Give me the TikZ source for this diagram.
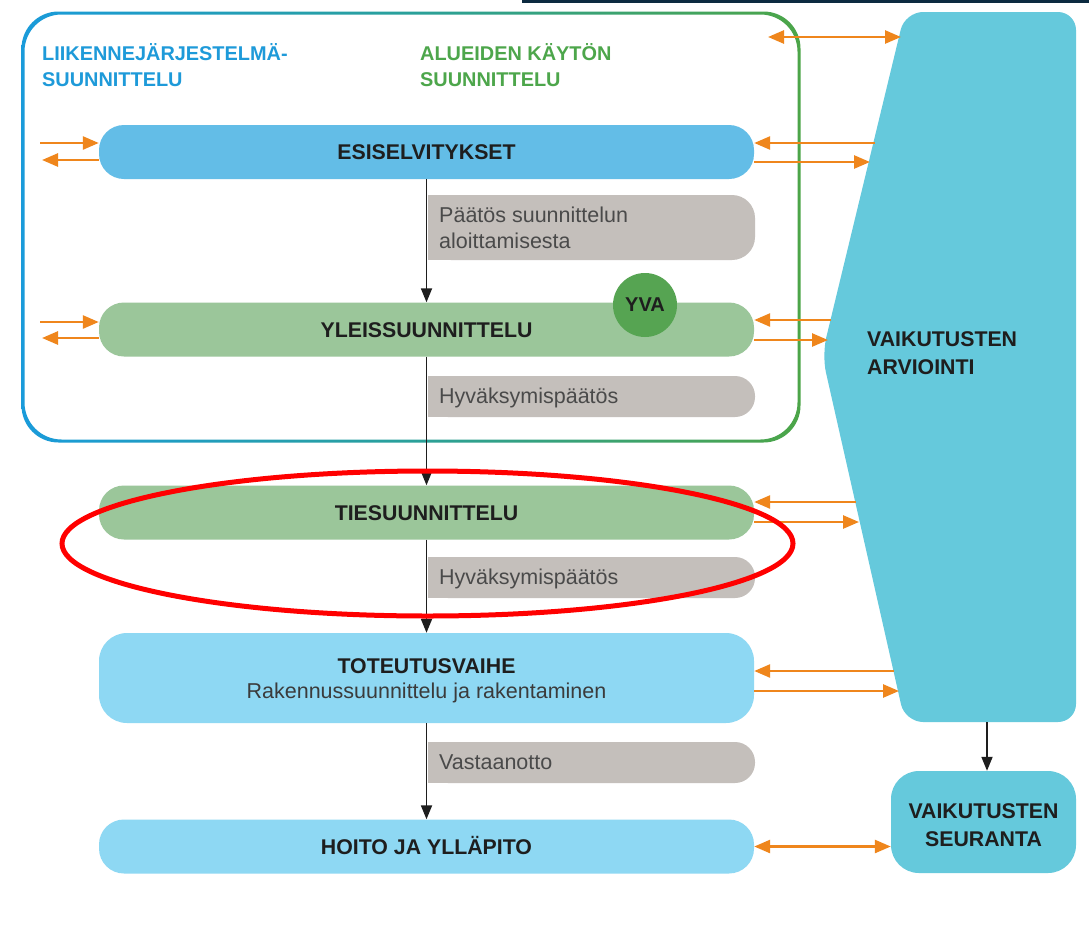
\documentclass[tikz,border=0pt]{standalone}
\usepackage{fontspec}
\setmainfont{Liberation Sans}
\usetikzlibrary{arrows.meta}
\definecolor{navyC}{HTML}{0C2A40}
\definecolor{bordBlue}{HTML}{1A9BDA}
\definecolor{bordTeal}{HTML}{2AA09A}
\definecolor{bordGreen}{HTML}{4CA548}
\definecolor{titleBlue}{HTML}{1E9AD9}
\definecolor{titleGreen}{HTML}{4DA64B}
\definecolor{barBlue}{HTML}{63BDE7}
\definecolor{barGreen}{HTML}{9BC69A}
\definecolor{barLight}{HTML}{8ED8F3}
\definecolor{grayC}{HTML}{C4BFBB}
\definecolor{tealC}{HTML}{65C9DC}
\definecolor{yvaC}{HTML}{56A452}
\definecolor{orangeC}{HTML}{EF861C}
\definecolor{txtGray}{HTML}{4A4A4A}
\definecolor{txtDark}{HTML}{1E1E1E}
\begin{document}
\begin{tikzpicture}[x=1pt,y=-1pt,
  bar/.style={rounded corners=25pt, minimum width=655pt, minimum height=54pt, inner sep=0pt, text height=15.4pt, text depth=0pt, font=\bfseries\fontsize{21.3}{26}\selectfont, text=txtDark},
  gtext/.style={anchor=base west, inner sep=0pt, font=\fontsize{21.5}{26}\selectfont, text=txtGray},
  btext/.style={anchor=base west, inner sep=0pt, font=\bfseries\fontsize{21.3}{26}\selectfont, text=txtDark},
  ctext/.style={anchor=base, inner sep=0pt, font=\bfseries\fontsize{21.3}{26}\selectfont, text=txtDark},
  ttext/.style={anchor=base west, inner sep=0pt, font=\bfseries\fontsize{19.9}{24}\selectfont},
  oarr/.style={draw=orangeC, line width=2.6pt, -{Triangle[length=16pt,width=13pt]}},
  oarrb/.style={draw=orangeC, line width=2.6pt, {Triangle[length=16pt,width=13pt]}-{Triangle[length=16pt,width=13pt]}},
  blk/.style={draw=txtDark, line width=1.8pt, -{Triangle[length=14pt,width=11pt]}},
  grayfill/.style={fill=grayC},
]
\useasboundingbox (0,0) rectangle (1089,937);
\fill[white] (0,0) rectangle (1089,937);
\fill[navyC] (522,0) rectangle (1089,3);

% outer gradient frame
\shade[left color=bordBlue, right color=bordGreen, middle color=bordTeal, even odd rule, rounded corners=37pt]
  (21.5,11.5) rectangle (800.5,442.5) (24.5,14.5) rectangle (797.5,439.5);

\node[ttext, text=titleBlue] (t1a) at (42,60) {LIIKENNEJÄRJESTELMÄ-};
\node[ttext, text=titleBlue] (t1b) at (42,86) {SUUNNITTELU};
\node[ttext, text=titleGreen] (t2a) at (420,60) {ALUEIDEN KÄYTÖN};
\node[ttext, text=titleGreen] (t2b) at (420,86) {SUUNNITTELU};

% impact assessment shape
\fill[tealC, rounded corners=18pt] (822,355) -- (905,12) -- (1076,12) -- (1076,722) -- (905,722) -- cycle;
\node[btext] (va1) at (867,346) {VAIKUTUSTEN};
\node[btext] (va2) at (867,374) {ARVIOINTI};
\coordinate (trapB) at (987,722);

% gray decision boxes
\fill[grayfill, rounded corners=23pt] (428,195) rectangle (755,260);
\fill[grayfill] (428,195) rectangle (480,260);
\fill[grayfill, rounded corners=20pt] (428,376) rectangle (755,417);
\fill[grayfill] (428,376) rectangle (480,417);
\fill[grayfill, rounded corners=20pt] (428,557) rectangle (755,598);
\fill[grayfill] (428,557) rectangle (480,598);
\fill[grayfill, rounded corners=20pt] (428,742) rectangle (755,783);
\fill[grayfill] (428,742) rectangle (480,783);
\node[gtext] (g1a) at (439,222) {Päätös suunnittelun};
\node[gtext] (g1b) at (439,248) {aloittamisesta};
\node[gtext] (g2) at (439,403) {Hyväksymispäätös};
\node[gtext] (g3) at (439,584) {Hyväksymispäätös};
\node[gtext] (g4) at (439,769) {Vastaanotto};

% bars
\node[bar, fill=barBlue] (esi) at (426.5,152) {ESISELVITYKSET};
\node[bar, fill=barGreen] (yle) at (426.5,329.5) {YLEISSUUNNITTELU};
\node[bar, fill=barGreen] (tie) at (426.5,512.5) {TIESUUNNITTELU};
\node[bar, fill=barLight, minimum height=90pt, rounded corners=28pt] (tot) at (426.5,678) {};
\node[ctext] (tot1) at (426.5,673) {TOTEUTUSVAIHE};
\node[ctext, font=\fontsize{21.5}{26}\selectfont, text=txtGray!80!black] (tot2) at (426.5,698) {Rakennussuunnittelu ja rakentaminen};
\node[bar, fill=barLight] (hoi) at (426.5,846.5) {HOITO JA YLLÄPITO};

% YVA
\node[circle, fill=yvaC, minimum size=64pt, inner sep=0pt, font=\bfseries\fontsize{20}{24}\selectfont, text=txtDark] (yva) at (645,305) {YVA};

% follow-up box
\node[fill=tealC, rounded corners=28pt, minimum width=185pt, minimum height=102pt, inner sep=0pt] (seu) at (983.5,822) {};
\node[ctext] (seu1) at (983.5,818) {VAIKUTUSTEN};
\node[ctext] (seu2) at (983.5,846) {SEURANTA};

% black flow arrows
\draw[blk] (esi.south) -- (yle.north);
\draw[blk] (yle.south) -- (tie.north);
\draw[blk] (tie.south) -- (tot.north);
\draw[blk] (tot.south) -- (hoi.north);
\draw[blk] (trapB) -- (trapB |- seu.north);

% orange arrows, left side
\coordinate (la1) at (40,143);
\coordinate (la2) at (42,160);
\coordinate (lb1) at (40,322);
\coordinate (lb2) at (42,338);
\draw[oarr] (la1) -- (la1 -| esi.west);
\draw[oarr] (la2 -| esi.west) -- (la2);
\draw[oarr] (lb1) -- (lb1 -| yle.west);
\draw[oarr] (lb2 -| yle.west) -- (lb2);

% orange arrows, right side
\coordinate (top1) at (768,37);
\coordinate (top2) at (901,37);
\draw[oarrb] (top1) -- (top2);
\coordinate (ra1) at (875,143);
\coordinate (ra2) at (870,162);
\draw[oarr] (ra1) -- (ra1 -| esi.east);
\draw[oarr] (ra2 -| esi.east) -- (ra2);
\coordinate (rb1) at (831,320);
\coordinate (rb2) at (828,340);
\draw[oarr] (rb1) -- (rb1 -| yle.east);
\draw[oarr] (rb2 -| yle.east) -- (rb2);
\coordinate (rc1) at (856,502);
\coordinate (rc2) at (859,522);
\draw[oarr] (rc1) -- (rc1 -| tie.east);
\draw[oarr] (rc2 -| tie.east) -- (rc2);
\coordinate (rd1) at (894,671);
\coordinate (rd2) at (899,691);
\draw[oarr] (rd1) -- (rd1 -| tot.east);
\draw[oarr] (rd2 -| tot.east) -- (rd2);
\draw[oarrb] (hoi.east) -- (hoi.east -| seu.west);

% red highlight ellipse
\draw[red, line width=5pt] (427.5,543.5) ellipse [x radius=365.5, y radius=72.5];
\end{tikzpicture}
\end{document}
